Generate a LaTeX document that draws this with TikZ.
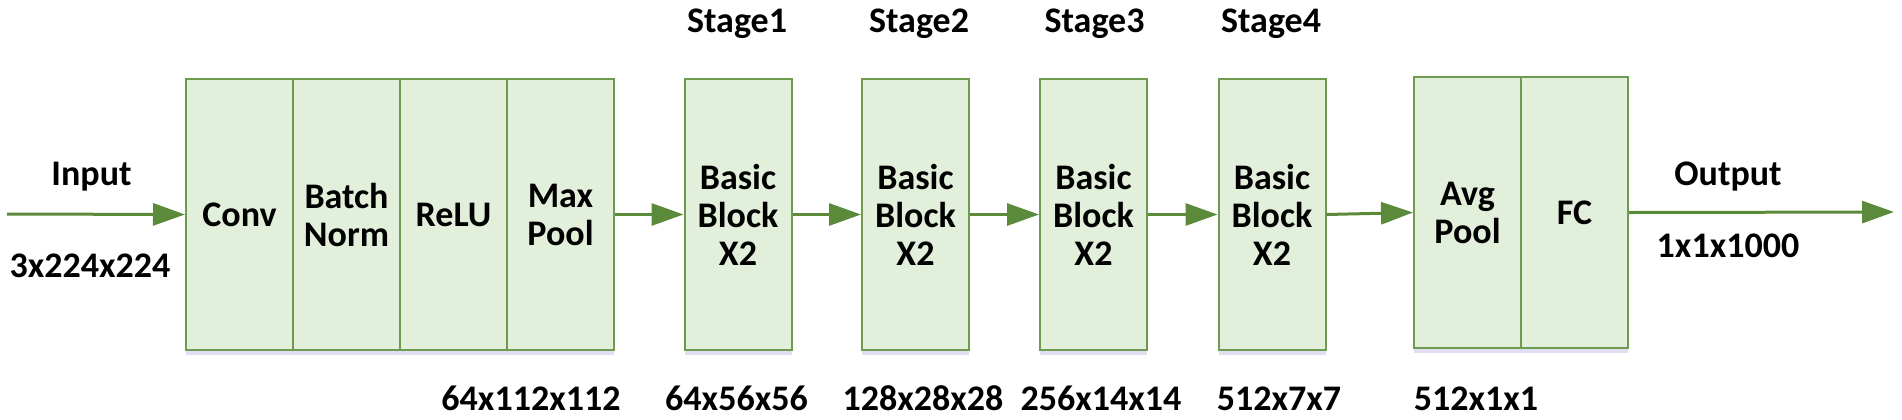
\documentclass[tikz,border=0pt]{standalone}
\usepackage{fontspec}
\setmainfont{Carlito}
\usepackage{xcolor}
\usepackage{tikz}
\usetikzlibrary{arrows.meta,shadows}
\definecolor{boxfill}{HTML}{E2EFDA}
\definecolor{boxline}{HTML}{6E9B50}
\definecolor{flowgreen}{HTML}{5A8A3A}
\newcommand{\diagfont}{\fontsize{18pt}{19pt}\selectfont\bfseries}

\begin{document}
\begin{tikzpicture}[x=0.5pt, y=-0.5pt,
  layer/.style={draw=boxline, fill=boxfill, line width=1pt, minimum width=53.5pt,
    minimum height=135.5pt, inner sep=0pt, align=center, font=\diagfont,
    drop shadow={shadow xshift=0pt, shadow yshift=-2.5pt, opacity=0.18, fill=blue!40!gray}},
  flow/.style={draw=flowgreen, line width=1.5pt, -{Triangle[length=16pt, width=11pt]}},
  lbl/.style={font=\diagfont, anchor=base, inner sep=0pt}]
  \useasboundingbox (0,0) rectangle (1902,419);

  % Stem - conv, batch norm, relu, max pool
  \node[layer] (conv) at (239.5,214.5) {Conv};
  \node[layer] (bn) at (346.5,214.5) {Batch\\Norm};
  \node[layer] (relu) at (453.5,214.5) {ReLU};
  \node[layer] (pool) at (560.5,214.5) {Max\\Pool};

  % Stages 1-4
  \node[layer] (s1) at (738,214.5) {Basic\\Block\\X2};
  \node[layer] (s2) at (915.5,214.5) {Basic\\Block\\X2};
  \node[layer] (s3) at (1093.5,214.5) {Basic\\Block\\X2};
  \node[layer] (s4) at (1272,214.5) {Basic\\Block\\X2};

  % Head - avg pool, fc
  \node[layer] (avg) at (1467.5,212.5) {Avg\\Pool};
  \node[layer] (fc) at (1574.5,212.5) {FC};

  % Arrows
  \coordinate (in) at (7,214);
  \coordinate (out) at (1894,212);
  \draw[flow] (in) -- (conv.west);
  \draw[flow] (pool.east) -- (s1.west);
  \draw[flow] (s1.east) -- (s2.west);
  \draw[flow] (s2.east) -- (s3.west);
  \draw[flow] (s3.east) -- (s4.west);
  \draw[flow] (s4.east) -- (avg.west);
  \draw[flow] (fc.east) -- (out);

  % Input and output labels
  \node[lbl] (inname) at (91.5,185) {Input};
  \node[lbl] (insize) at (90,277) {3x224x224};
  \node[lbl] (outname) at (1728,185) {Output};
  \node[lbl] (outsize) at (1728,257) {1x1x1000};

  % Stage names (top row)
  \node[lbl] (name1) at (737,32) {Stage1};
  \node[lbl] (name2) at (919,32) {Stage2};
  \node[lbl] (name3) at (1094.5,32) {Stage3};
  \node[lbl] (name4) at (1271,32) {Stage4};

  % Feature map sizes (bottom row)
  \node[lbl] (size0) at (531,410) {64x112x112};
  \node[lbl] (size1) at (736.5,410) {64x56x56};
  \node[lbl] (size2) at (923,410) {128x28x28};
  \node[lbl] (size3) at (1101,410) {256x14x14};
  \node[lbl] (size4) at (1279,410) {512x7x7};
  \node[lbl] (size5) at (1476,410) {512x1x1};

\end{tikzpicture}
\end{document}
